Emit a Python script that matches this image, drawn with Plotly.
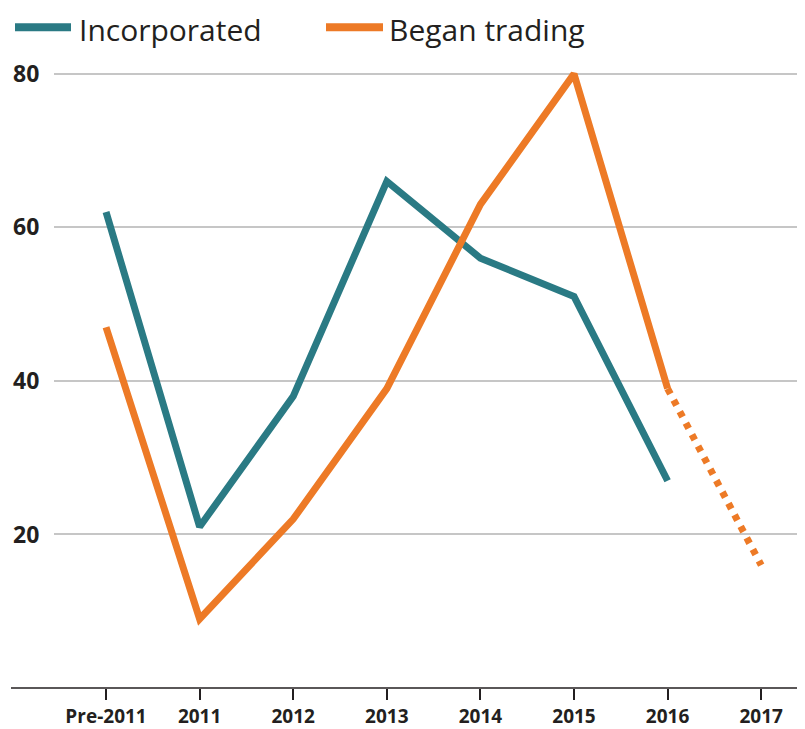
import plotly.graph_objects as go

categories = ["Pre-2011", "2011", "2012", "2013", "2014", "2015", "2016", "2017"]
incorporated = [62, 21, 38, 66, 56, 51, 27]
began_trading = [47, 9, 22, 39, 63, 80, 39]
began_trading_projected_x = ["2016", "2017"]
began_trading_projected = [39, 16]
y_ticks = [20, 40, 60, 80]

TEAL = "#2a7a84"
ORANGE = "#ed7a26"
DARK = "#231f20"
FONT = "Open Sans"

fig = go.Figure()
fig.add_trace(go.Scatter(x=categories[:len(incorporated)], y=incorporated, mode="lines",
                         line=dict(color=TEAL, width=7), name="Incorporated", showlegend=False))
fig.add_trace(go.Scatter(x=categories[:len(began_trading)], y=began_trading, mode="lines",
                         line=dict(color=ORANGE, width=7), name="Began trading", showlegend=False))
fig.add_trace(go.Scatter(x=began_trading_projected_x, y=began_trading_projected, mode="lines",
                         line=dict(color=ORANGE, width=7, dash="6px,7px"), showlegend=False))

# page body has an 8px margin, so the figure is drawn 8px smaller and shifted
W, H = 797, 721
L, R, T, B = 46, 0, 52, 37
pw = W - L - R
ph = H - T - B

def px_to_paper_x(px):
    return (px - L) / pw

def py_to_paper_y(py):
    return (H - B - py) / ph

# bottom axis line extends to the left edge
fig.add_shape(type="line", xref="paper", yref="paper",
              x0=px_to_paper_x(3), x1=1, y0=0, y1=0,
              line=dict(color=DARK, width=1.5))

# manual legend
legend_items = [("Incorporated", TEAL, 7, 63, 70), ("Began trading", ORANGE, 318, 375, 380)]
for label, color, x0, x1, tx in legend_items:
    fig.add_shape(type="line", xref="paper", yref="paper",
                  x0=px_to_paper_x(x0), x1=px_to_paper_x(x1),
                  y0=py_to_paper_y(19), y1=py_to_paper_y(19),
                  line=dict(color=color, width=8))
    fig.add_annotation(text=label, xref="paper", yref="paper",
                       x=px_to_paper_x(tx), y=py_to_paper_y(0),
                       xanchor="left", yanchor="top", showarrow=False,
                       borderpad=0,
                       font=dict(family=FONT, size=30, color=DARK))

fig.update_layout(
    width=W, height=H,
    margin=dict(l=L, r=R, t=T, b=B, pad=0),
    paper_bgcolor="white", plot_bgcolor="white",
    xaxis=dict(type="category", categoryorder="array", categoryarray=categories,
               range=[-0.556, 7.468], showgrid=False, zeroline=False,
               showline=False, ticks="outside", ticklen=11, tickwidth=1.5,
               tickcolor=DARK,
               tickfont=dict(family=FONT, size=19, color=DARK, weight="bold")),
    yaxis=dict(range=[0, 81.81], tickvals=y_ticks, showgrid=True,
               gridcolor="#c6c6c6", gridwidth=1.5, zeroline=False, showline=False,
               ticks="outside", ticklen=9, tickcolor="rgba(0,0,0,0)",
               tickfont=dict(family=FONT, size=23, color=DARK, weight="bold")),
)

fig.write_html("out.html")
